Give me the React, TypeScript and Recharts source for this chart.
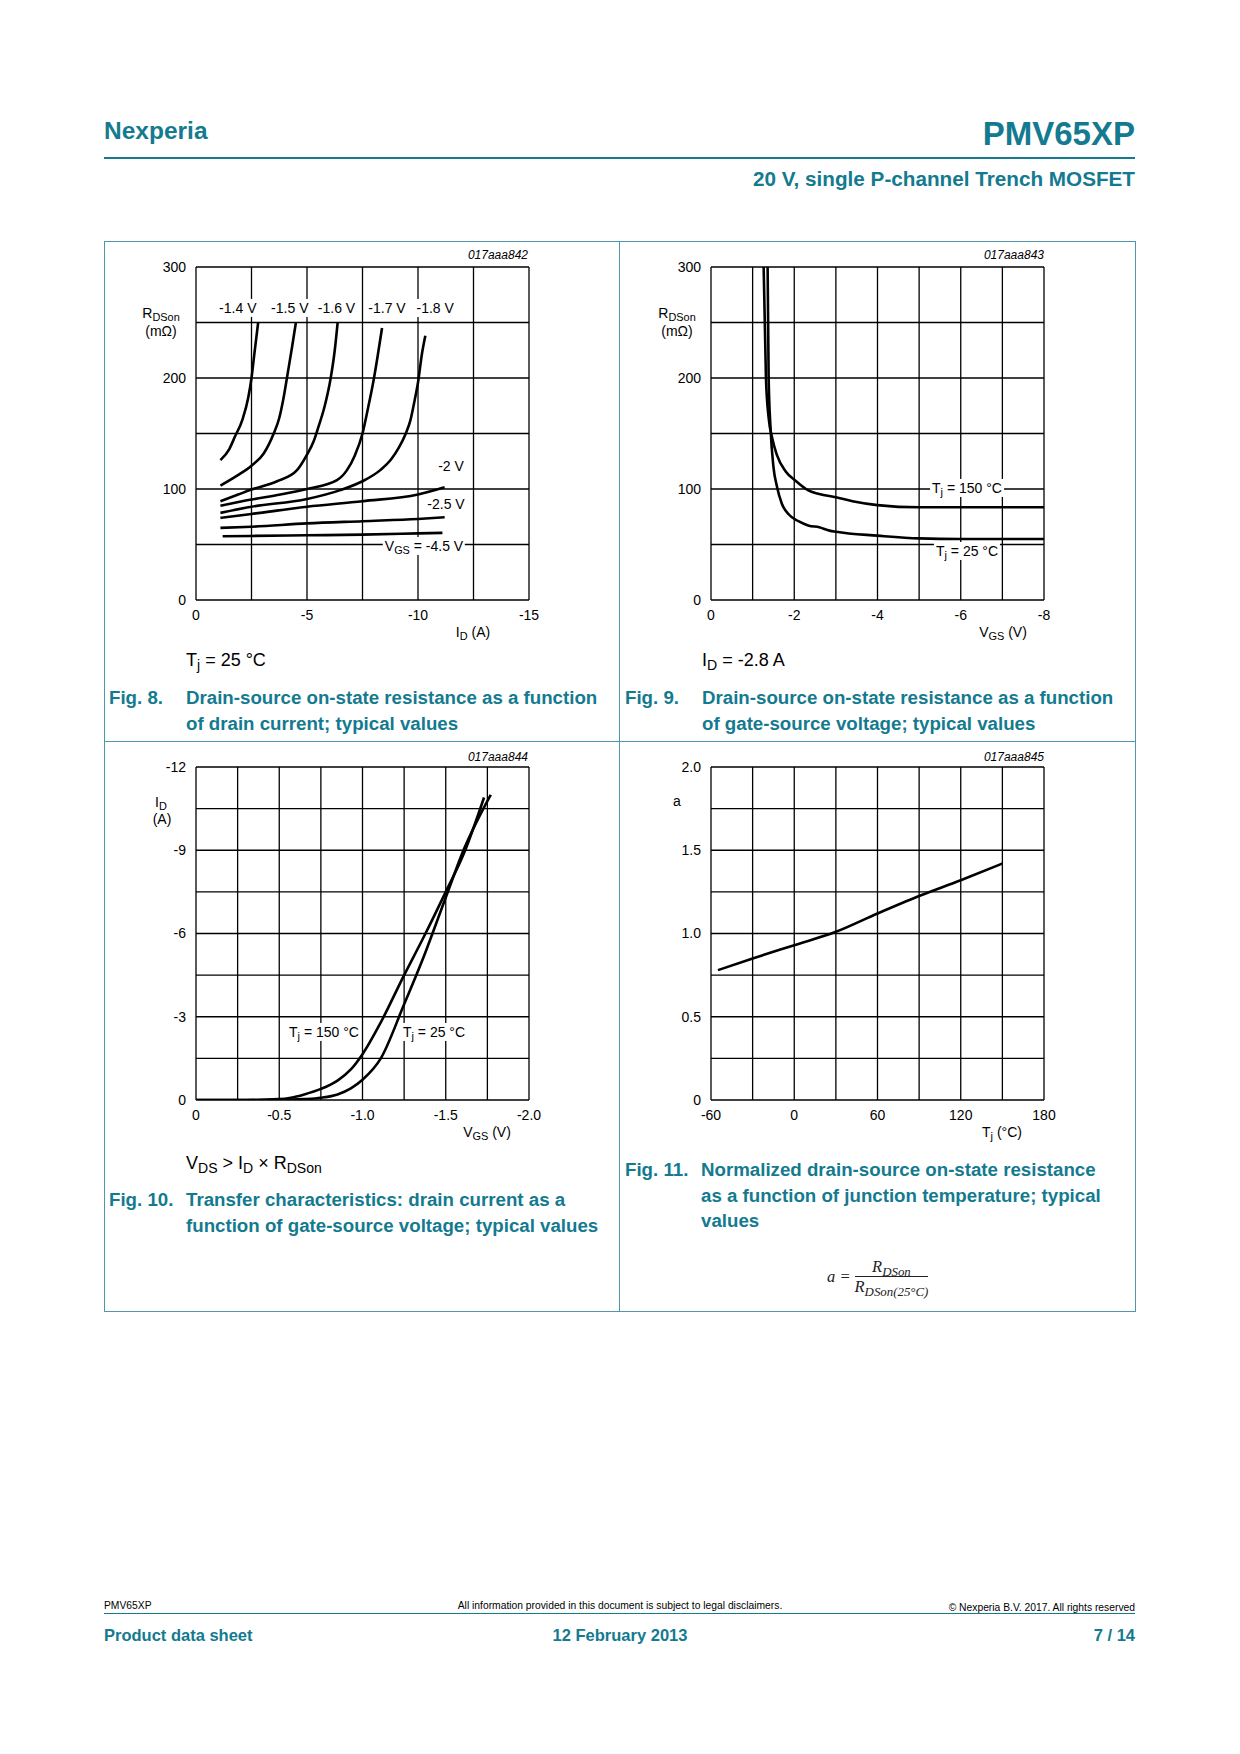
import React from 'react';
import { LineChart, Line, XAxis, YAxis, CartesianGrid } from 'recharts';

type Pt = [number, number];

// Fig. 8 - RDSon (mOhm) vs ID (A), one curve per VGS
const fig8Vgs14: Pt[] = [[-1.1, 126], [-1.5, 136], [-1.75, 147], [-2.1, 163], [-2.35, 182], [-2.5, 200], [-2.63, 222], [-2.8, 250]];
const fig8Vgs15: Pt[] = [[-1.1, 103], [-1.85, 112], [-2.5, 121], [-3.05, 132], [-3.5, 150], [-3.75, 164], [-3.97, 185], [-4.12, 203], [-4.32, 227], [-4.5, 250]];
const fig8Vgs16: Pt[] = [[-1.1, 89], [-1.9, 95], [-2.5, 99.5], [-3.65, 107], [-4.55, 117], [-5.0, 131], [-5.3, 143], [-5.5, 155], [-5.8, 175], [-6.05, 198], [-6.25, 225], [-6.38, 250]];
const fig8Vgs17: Pt[] = [[-1.1, 85], [-2.5, 90.5], [-3.8, 95], [-5.0, 100], [-6.35, 108], [-6.8, 117], [-7.15, 130], [-7.5, 150], [-7.75, 173], [-8.0, 198], [-8.2, 222], [-8.38, 245]];
const fig8Vgs18: Pt[] = [[-1.1, 78.5], [-2.5, 84], [-5.0, 91], [-6.5, 99], [-7.5, 107], [-8.3, 117], [-8.8, 127], [-9.13, 137], [-9.45, 150], [-9.66, 162], [-9.85, 180], [-10.0, 196], [-10.18, 222], [-10.33, 238]];
const fig8Vgs20: Pt[] = [[-1.1, 74], [-2.5, 77.5], [-5.0, 84], [-7.5, 89], [-10.0, 95], [-11.2, 101.5]];
const fig8Vgs25: Pt[] = [[-1.1, 65], [-2.5, 66], [-5.0, 69], [-7.5, 71], [-10.0, 73], [-11.2, 74.5]];
const fig8Vgs45: Pt[] = [[-1.2, 57.5], [-2.5, 57.7], [-5.0, 58.3], [-7.5, 58.9], [-10.0, 60], [-11.1, 60.5]];
const fig8XTicks = [0, -2.5, -5, -7.5, -10, -12.5, -15];
const fig8XLabels = [0, -5, -10, -15];
const fig8YTicks = [0, 50, 100, 150, 200, 250, 300];
const fig8YLabels = [0, 100, 200, 300];
const fig8TopLabels = ['-1.4 V', '-1.5 V', '-1.6 V', '-1.7 V', '-1.8 V'];

// Fig. 9 - RDSon (mOhm) vs VGS (V), ID = -2.8 A
const fig9Tj25: Pt[] = [[-1.36, 300], [-1.385, 200], [-1.43, 155], [-1.5, 120], [-1.58, 103], [-1.7, 87], [-1.87, 77], [-2.1, 71], [-2.35, 67], [-2.6, 65.5], [-2.85, 62.5], [-3.0, 61.5], [-4.0, 58], [-5.0, 55.5], [-6.0, 55], [-8.0, 55]];
const fig9Tj150: Pt[] = [[-1.265, 300], [-1.32, 200], [-1.385, 164], [-1.47, 146], [-1.58, 131], [-1.79, 116], [-2.03, 107.5], [-2.35, 98.5], [-2.6, 95.5], [-3.0, 92.5], [-3.4, 89], [-4.0, 85.5], [-5.0, 83.5], [-6.0, 83.5], [-8.0, 83.5]];
const fig9XTicks = [0, -1, -2, -3, -4, -5, -6, -7, -8];
const fig9XLabels = [0, -2, -4, -6, -8];

// Fig. 10 - ID (A) vs VGS (V)
const fig10Tj150: Pt[] = [[0, 0], [-0.3, 0], [-0.5, -0.03], [-0.57, -0.08], [-0.65, -0.2], [-0.75, -0.4], [-0.85, -0.7], [-0.93, -1.1], [-1.0, -1.65], [-1.11, -2.8], [-1.25, -4.5], [-1.37, -5.9], [-1.5, -7.5], [-1.61, -8.9], [-1.73, -10.9]];
const fig10Tj25: Pt[] = [[0, 0], [-0.5, 0], [-0.65, -0.03], [-0.75, -0.08], [-0.85, -0.2], [-0.93, -0.42], [-1.0, -0.73], [-1.11, -1.5], [-1.25, -3.45], [-1.37, -5.2], [-1.5, -7.3], [-1.61, -9.05], [-1.77, -11.0]];
const fig10XTicks = [0, -0.25, -0.5, -0.75, -1, -1.25, -1.5, -1.75, -2];
const fig10XLabels = [0, -0.5, -1, -1.5, -2];
const fig10YTicks = [-12, -10.5, -9, -7.5, -6, -4.5, -3, -1.5, 0];
const fig10YLabels = [-12, -9, -6, -3, 0];

// Fig. 11 - normalized RDSon (a) vs Tj (°C)
const fig11A: Pt[] = [[-55, 0.78], [-30, 0.85], [0, 0.93], [30, 1.01], [60, 1.12], [90, 1.225], [120, 1.32], [150, 1.42]];
const fig11XTicks = [-60, -30, 0, 30, 60, 90, 120, 150, 180];
const fig11XLabels = [-60, 0, 60, 120, 180];
const fig11YTicks = [0, 0.25, 0.5, 0.75, 1, 1.25, 1.5, 1.75, 2];
const fig11YLabels = [0, 0.5, 1, 1.5, 2];

const TEAL = '#137a8f';
const BORDER = '#4f97aa';
const PW = 333;
const PH = 333;
const ML = 92;
const MT = 26;

const labelFmt = (labels: number[], digits = 0) => (v: number) =>
  labels.some((l) => Math.abs(l - v) < 1e-6) ? (v === 0 ? '0' : v.toFixed(digits)) : '';

function Plot(props: {
  left: number; top: number; xDomain: number[]; yDomain: number[];
  xTicks: number[]; yTicks: number[]; xFmt: (v: number) => string; yFmt: (v: number) => string;
  xRev?: boolean; yRev?: boolean; curves: Pt[][];
}) {
  const { left, top, xDomain, yDomain, xTicks, yTicks, xFmt, yFmt, xRev, yRev, curves } = props;
  const tick = { fill: '#000', fontSize: 14 };
  return (
    <div style={{ position: 'absolute', left: left - ML, top: top - MT }}>
      <LineChart width={ML + PW + 20} height={MT + PH + 40} margin={{ top: MT, right: 20, bottom: 0, left: ML - 50 }}>
        <CartesianGrid stroke="#000" strokeWidth={1.3} />
        <XAxis type="number" dataKey="x" domain={xDomain} ticks={xTicks} reversed={xRev} interval={0}
          tickFormatter={xFmt} axisLine={false} tickLine={false} tickMargin={4} height={40}
          allowDataOverflow tick={tick} />
        <YAxis type="number" dataKey="y" domain={yDomain} ticks={yTicks} reversed={yRev} interval={0}
          tickFormatter={yFmt} axisLine={false} tickLine={false} tickMargin={4} width={50}
          allowDataOverflow tick={tick} />
        {curves.map((c, i) => (
          <Line key={i} data={c.map(([x, y]) => ({ x, y }))} dataKey="y" type="monotone"
            stroke="#000" strokeWidth={2.6} dot={false} isAnimationActive={false} />
        ))}
      </LineChart>
    </div>
  );
}

const Sub = ({ children }: { children: React.ReactNode }) => (
  <sub style={{ fontSize: '0.78em', verticalAlign: '-0.3em', lineHeight: 0 }}>{children}</sub>
);

function Txt(props: {
  x: number; y: number; children: React.ReactNode; size?: number; anchor?: 'start' | 'middle' | 'end';
  bold?: boolean; italic?: boolean; color?: string; bg?: boolean; family?: string;
}) {
  const { x, y, children, size = 14, anchor = 'start', bold, italic, color = '#000', bg, family } = props;
  const tx = anchor === 'middle' ? '-50%' : anchor === 'end' ? '-100%' : '0';
  return (
    <div style={{
      position: 'absolute', left: x, top: y, transform: `translate(${tx}, -50%)`, fontSize: size,
      fontWeight: bold ? 'bold' : 'normal', fontStyle: italic ? 'italic' : 'normal', color,
      background: bg ? '#fff' : undefined, padding: bg ? '1px 2px' : 0, whiteSpace: 'nowrap',
      lineHeight: 1.15, zIndex: 2, fontFamily: family,
    }}>{children}</div>
  );
}

function Caption({ x1, x2, y, num, lines }: { x1: number; x2: number; y: number; num: string; lines: string[] }) {
  return (
    <>
      <Txt x={x1} y={y} size={18.7} bold color={TEAL}>{num}</Txt>
      {lines.map((l, i) => (
        <Txt key={i} x={x2} y={y + i * 25.7} size={18.7} bold color={TEAL}>{l}</Txt>
      ))}
    </>
  );
}

export default function App() {
  const topX = [237.8, 289.8, 336.5, 387, 435.2];
  return (
    <div style={{
      position: 'absolute', left: 0, top: 0, width: 1240, height: 1754, background: '#fff',
      fontFamily: '"Liberation Sans", Arial, sans-serif', color: '#000', overflow: 'hidden',
    }}>
      {/* header */}
      <Txt x={104} y={131} size={24.5} bold color={TEAL}>Nexperia</Txt>
      <Txt x={1135} y={134} size={33} bold color={TEAL} anchor="end">PMV65XP</Txt>
      <div style={{ position: 'absolute', left: 104, top: 157, width: 1031, height: 1.5, background: TEAL }} />
      <Txt x={1135} y={179} size={20.7} bold color={TEAL} anchor="end">20 V, single P-channel Trench MOSFET</Txt>

      {/* panel frame */}
      <div style={{ position: 'absolute', left: 104, top: 241, width: 1030, height: 1069, border: `1px solid ${BORDER}` }} />
      <div style={{ position: 'absolute', left: 619, top: 241, width: 1, height: 1070, background: BORDER }} />
      <div style={{ position: 'absolute', left: 104, top: 741, width: 1031, height: 1, background: BORDER }} />

      {/* Fig. 8 */}
      <Plot left={196} top={267} xDomain={[-15, 0]} yDomain={[0, 300]} xRev
        xTicks={fig8XTicks} yTicks={fig8YTicks} xFmt={labelFmt(fig8XLabels)} yFmt={labelFmt(fig8YLabels)}
        curves={[fig8Vgs14, fig8Vgs15, fig8Vgs16, fig8Vgs17, fig8Vgs18, fig8Vgs20, fig8Vgs25, fig8Vgs45]} />
      <Txt x={528} y={256} size={12} italic anchor="end">017aaa842</Txt>
      <Txt x={161} y={313} anchor="middle">R<Sub>DSon</Sub></Txt>
      <Txt x={161} y={331} anchor="middle">(mΩ)</Txt>
      {fig8TopLabels.map((l, i) => (
        <Txt key={l} x={topX[i]} y={308} anchor="middle" bg>{l}</Txt>
      ))}
      <Txt x={451} y={466} anchor="middle" bg>-2 V</Txt>
      <Txt x={446} y={504} anchor="middle" bg>-2.5 V</Txt>
      <Txt x={424} y={546} anchor="middle" bg>V<Sub>GS</Sub> = -4.5 V</Txt>
      <Txt x={473} y={632} anchor="middle">I<Sub>D</Sub> (A)</Txt>
      <Txt x={186} y={660} size={18}>T<Sub>j</Sub> = 25 °C</Txt>
      <Caption x1={109} x2={186} y={698} num="Fig. 8."
        lines={['Drain-source on-state resistance as a function', 'of drain current; typical values']} />

      {/* Fig. 9 */}
      <Plot left={711} top={267} xDomain={[-8, 0]} yDomain={[0, 300]} xRev
        xTicks={fig9XTicks} yTicks={fig8YTicks} xFmt={labelFmt(fig9XLabels)} yFmt={labelFmt(fig8YLabels)}
        curves={[fig9Tj25, fig9Tj150]} />
      <Txt x={1044} y={256} size={12} italic anchor="end">017aaa843</Txt>
      <Txt x={677} y={313} anchor="middle">R<Sub>DSon</Sub></Txt>
      <Txt x={677} y={331} anchor="middle">(mΩ)</Txt>
      <Txt x={967} y={488} anchor="middle" bg>T<Sub>j</Sub> = 150 °C</Txt>
      <Txt x={967} y={551} anchor="middle" bg>T<Sub>j</Sub> = 25 °C</Txt>
      <Txt x={1003} y={632} anchor="middle">V<Sub>GS</Sub> (V)</Txt>
      <Txt x={702} y={660} size={18}>I<Sub>D</Sub> = -2.8 A</Txt>
      <Caption x1={625} x2={702} y={698} num="Fig. 9."
        lines={['Drain-source on-state resistance as a function', 'of gate-source voltage; typical values']} />

      {/* Fig. 10 */}
      <Plot left={196} top={767} xDomain={[-2, 0]} yDomain={[-12, 0]} xRev yRev
        xTicks={fig10XTicks} yTicks={fig10YTicks} xFmt={labelFmt(fig10XLabels, 1)} yFmt={labelFmt(fig10YLabels)}
        curves={[fig10Tj150, fig10Tj25]} />
      <Txt x={528} y={758} size={12} italic anchor="end">017aaa844</Txt>
      <Txt x={161} y={802} anchor="middle">I<Sub>D</Sub></Txt>
      <Txt x={162} y={819} anchor="middle">(A)</Txt>
      <Txt x={324} y={1032} anchor="middle" bg>T<Sub>j</Sub> = 150 °C</Txt>
      <Txt x={434} y={1032} anchor="middle" bg>T<Sub>j</Sub> = 25 °C</Txt>
      <Txt x={487} y={1132} anchor="middle">V<Sub>GS</Sub> (V)</Txt>
      <Txt x={186} y={1163} size={18}>V<Sub>DS</Sub> &gt; I<Sub>D</Sub> × R<Sub>DSon</Sub></Txt>
      <Caption x1={109} x2={186} y={1200} num="Fig. 10."
        lines={['Transfer characteristics: drain current as a', 'function of gate-source voltage; typical values']} />

      {/* Fig. 11 */}
      <Plot left={711} top={767} xDomain={[-60, 180]} yDomain={[0, 2]}
        xTicks={fig11XTicks} yTicks={fig11YTicks} xFmt={labelFmt(fig11XLabels)} yFmt={labelFmt(fig11YLabels, 1)}
        curves={[fig11A]} />
      <Txt x={1044} y={758} size={12} italic anchor="end">017aaa845</Txt>
      <Txt x={677} y={801} anchor="middle">a</Txt>
      <Txt x={1002} y={1132} anchor="middle">T<Sub>j</Sub> (°C)</Txt>
      <Caption x1={625} x2={701} y={1170} num="Fig. 11."
        lines={['Normalized drain-source on-state resistance', 'as a function of junction temperature; typical', 'values']} />
      <div style={{
        position: 'absolute', left: 827, top: 1258, display: 'flex', alignItems: 'center',
        fontFamily: '"Liberation Serif", "Times New Roman", serif', fontStyle: 'italic', fontSize: 16.5, color: '#222',
      }}>
        <span style={{ marginRight: 4 }}>a =</span>
        <span style={{ display: 'inline-flex', flexDirection: 'column', alignItems: 'stretch', textAlign: 'center' }}>
          <span style={{ borderBottom: '1px solid #222', padding: '0 2px', lineHeight: 1.1 }}>R<Sub>DSon</Sub></span>
          <span style={{ lineHeight: 1.2 }}>R<Sub>DSon(25°C)</Sub></span>
        </span>
      </div>

      {/* footer */}
      <Txt x={104} y={1606} size={10.3}>PMV65XP</Txt>
      <Txt x={620} y={1606} size={10.3} anchor="middle">All information provided in this document is subject to legal disclaimers.</Txt>
      <Txt x={1135} y={1608} size={10.3} anchor="end">© Nexperia B.V. 2017. All rights reserved</Txt>
      <div style={{ position: 'absolute', left: 104, top: 1613, width: 1031, height: 1, background: TEAL }} />
      <Txt x={104} y={1635} size={16.5} bold color={TEAL}>Product data sheet</Txt>
      <Txt x={620} y={1635} size={16.5} bold color={TEAL} anchor="middle">12 February 2013</Txt>
      <Txt x={1135} y={1635} size={16.5} bold color={TEAL} anchor="end">7 / 14</Txt>
    </div>
  );
}
